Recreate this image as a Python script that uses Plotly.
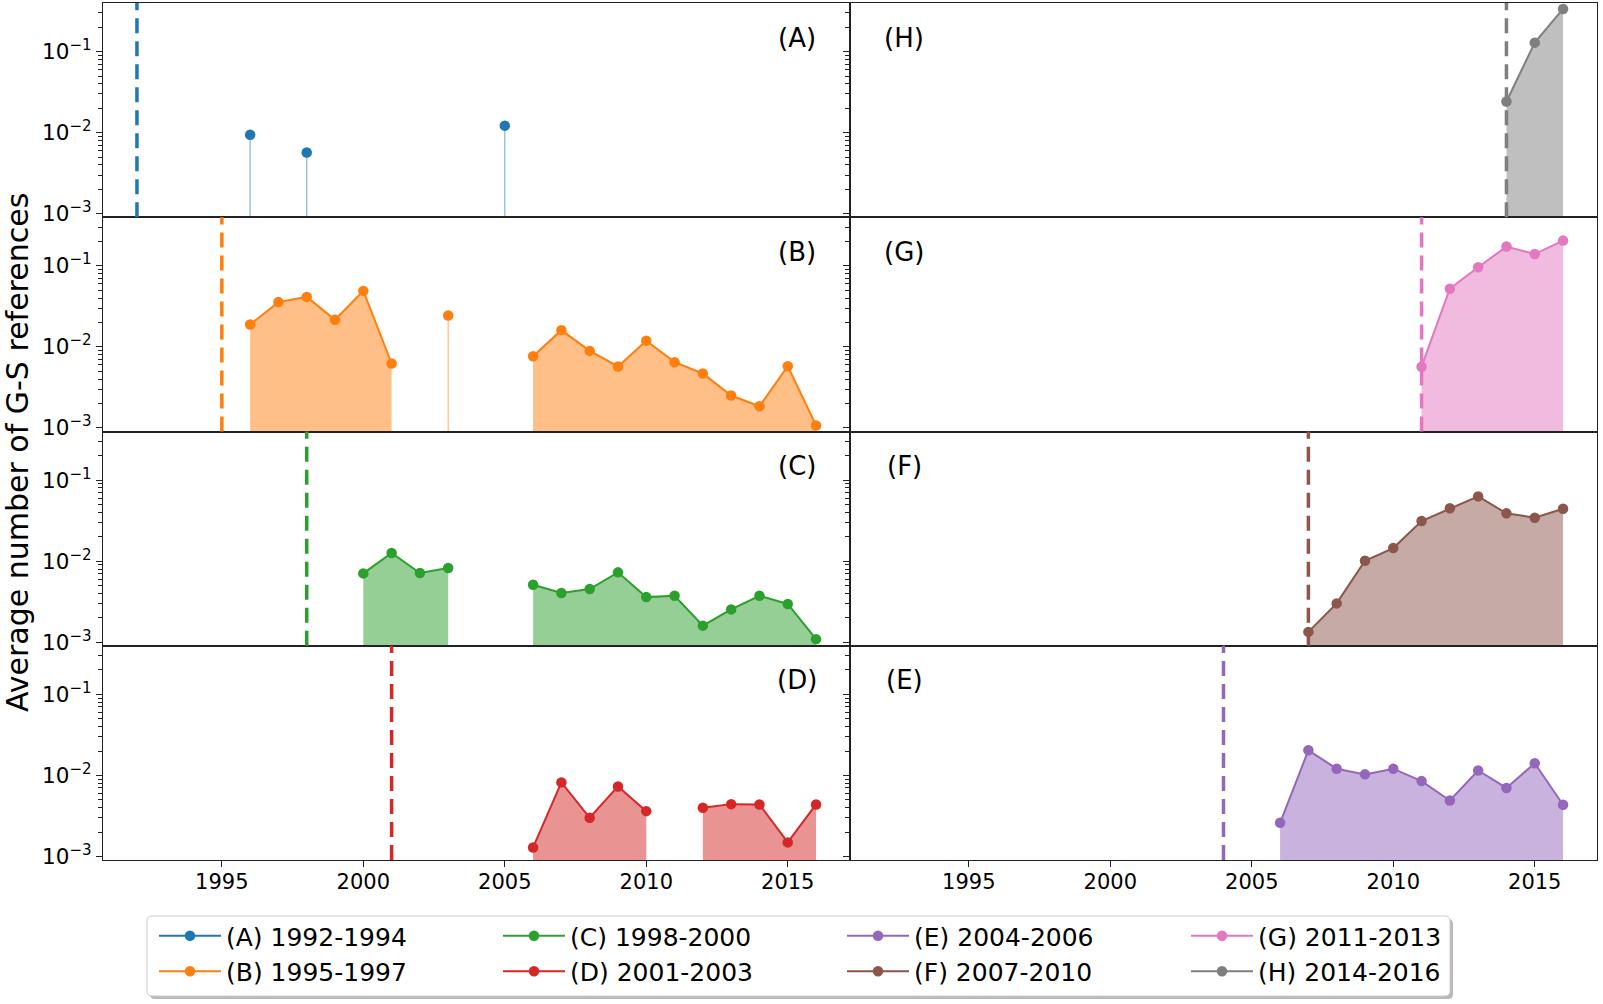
import plotly.graph_objects as go
from plotly.subplots import make_subplots

YEARS = list(range(1996, 2017))
N = None
A = [0.0094, N, 0.0057, N, N, N, N, N, N, 0.0122, N, N, N, N, N, N, N, N, N, N, N]
B = [0.0189, 0.0357, 0.0414, 0.0216, 0.0491, 0.00624, N, 0.0244, N, N,
     0.00767, 0.0161, 0.00893, 0.00573, 0.0119, 0.00648, 0.0047, 0.00251, 0.00185, 0.00578, 0.00107]
C = [N, N, N, N, 0.00706, 0.0126, 0.00713, 0.00822, N, N,
     0.00512, 0.00404, 0.00453, 0.00727, 0.0036, 0.00374, 0.0016, 0.00254, 0.00374, 0.00296, 0.00109]
D = [N] * 10 + [0.00129, 0.0082, 0.0030, 0.00731, 0.00362, N, 0.00398, 0.00442, 0.00438, 0.00149, 0.00438]
E = [N] * 10 + [0.0026, 0.0204, 0.0121, 0.0103, 0.0121, 0.0085, 0.0049, 0.0115, 0.0070, 0.0141, 0.00434]
F = [N] * 11 + [0.00134, 0.00301, 0.0101, 0.0145, 0.0313, 0.0449, 0.063, 0.0389, 0.0344, 0.0444]
G = [N] * 15 + [0.0057, 0.0523, 0.096, 0.173, 0.140, 0.205]
H = [N] * 18 + [0.0242, 0.129, 0.336]

SERIES = {"A": A, "B": B, "C": C, "D": D, "E": E, "F": F, "G": G, "H": H}
START_YEARS = {"A": 1992, "B": 1995, "C": 1998, "D": 2001, "E": 2004, "F": 2007, "G": 2011, "H": 2014}
LABELS = {"A": "(A) 1992-1994", "B": "(B) 1995-1997", "C": "(C) 1998-2000", "D": "(D) 2001-2003",
          "E": "(E) 2004-2006", "F": "(F) 2007-2010", "G": "(G) 2011-2013", "H": "(H) 2014-2016"}
COLORS = {"A": (31, 119, 180), "B": (255, 127, 14), "C": (44, 160, 44), "D": (214, 39, 40),
          "E": (148, 103, 189), "F": (140, 86, 75), "G": (227, 119, 194), "H": (127, 127, 127)}
POS = {"A": (1, 1), "B": (2, 1), "C": (3, 1), "D": (4, 1),
       "H": (1, 2), "G": (2, 2), "F": (3, 2), "E": (4, 2)}
LEGEND_RANK = {"A": 1, "C": 2, "E": 3, "G": 4, "B": 5, "D": 6, "F": 7, "H": 8}

X_TICKS = [1995, 2000, 2005, 2010, 2015]
Y_TICKS = [1e-3, 1e-2, 1e-1]
Y_TICKTEXT = ["10<sup>\u22123</sup>", "10<sup>\u22122</sup>", "10<sup>\u22121</sup>"]
X_RANGE = [1990.8, 2017.2]
Y_RANGE_LOG = [-3.044, -0.40]
BASE = 1e-5  # below the visible range: fill baseline

W, HGT = 1603, 1004
ML, MR, MT, MB = 103, 6, 3, 144
PW = W - ML - MR
PH = HGT - MT - MB

def px_x(p):
    return (p - ML) / PW

def px_y(p):
    return (HGT - MB - p) / PH

fig = make_subplots(rows=4, cols=2, horizontal_spacing=0, vertical_spacing=0)

def rgb(c, a=None):
    if a is None:
        return "rgb(%d,%d,%d)" % c
    return "rgba(%d,%d,%d,%s)" % (c + (a,))

for key, vals in SERIES.items():
    r, c = POS[key]
    col = COLORS[key]
    segs, cur = [], []
    for yr, v in zip(YEARS, vals):
        if v is None:
            if cur:
                segs.append(cur)
            cur = []
        else:
            cur.append((yr, v))
    if cur:
        segs.append(cur)
    for seg in segs:
        xs = [p[0] for p in seg]
        ys = [p[1] for p in seg]
        if len(seg) == 1:
            fig.add_trace(go.Scatter(x=[xs[0], xs[0]], y=[BASE, ys[0]], mode="lines",
                                     line=dict(color=rgb(col, 0.5), width=1.3),
                                     showlegend=False, hoverinfo="skip"), row=r, col=c)
        else:
            fig.add_trace(go.Scatter(x=xs + [xs[-1], xs[0]], y=ys + [BASE, BASE], mode="lines",
                                     fill="toself", fillcolor=rgb(col, 0.5),
                                     line=dict(width=0, color=rgb(col, 0.5)),
                                     showlegend=False, hoverinfo="skip"), row=r, col=c)
    fig.add_trace(go.Scatter(x=YEARS, y=vals, mode="lines+markers", name=LABELS[key],
                             line=dict(color=rgb(col), width=2),
                             marker=dict(color=rgb(col), size=10.5), cliponaxis=False,
                             connectgaps=False, legendrank=LEGEND_RANK[key]), row=r, col=c)
    idx = (r - 1) * 2 + c
    xr = "x" if idx == 1 else "x%d" % idx
    yr_ = "y" if idx == 1 else "y%d" % idx
    fig.add_shape(type="line", xref=xr, yref=yr_ + " domain", x0=START_YEARS[key], x1=START_YEARS[key],
                  y0=0, y1=1, line=dict(color=rgb(col), width=3.5, dash="15px,8px"), layer="above")
    fig.add_annotation(xref=xr + " domain", yref=yr_ + " domain",
                       x=0.929 if c == 1 else 0.0723, y=0.838, xanchor="center", yanchor="middle",
                       text="(%s)" % key, showarrow=False,
                       font=dict(family="DejaVu Sans", size=26, color="black"))

minor_vals = [k * 10 ** e for e in range(-4, 1) for k in range(2, 10)]

for r in range(1, 5):
    for c in range(1, 3):
        fig.update_xaxes(range=X_RANGE, showline=True, mirror=True, linecolor="#222", linewidth=1.2,
                         showgrid=False, zeroline=False, tickmode="array", tickvals=X_TICKS,
                         ticks="outside" if r == 4 else "", ticklen=6, tickcolor="#222",
                         showticklabels=(r == 4), ticklabelstandoff=-3,
                         tickfont=dict(family="DejaVu Sans", size=21, color="black"), row=r, col=c)
        fig.update_yaxes(type="log", range=Y_RANGE_LOG, showline=True, mirror=True, linecolor="#222",
                         linewidth=1.2, showgrid=False, zeroline=False, tickmode="array",
                         tickvals=Y_TICKS, ticktext=Y_TICKTEXT, ticks="outside", ticklen=6,
                         tickcolor="#222", showticklabels=(c == 1),
                         minor=dict(tickmode="array", tickvals=minor_vals, ticks="outside",
                                    ticklen=3.5, tickcolor="#222", showgrid=False),
                         tickfont=dict(family="DejaVu Sans", size=21.5, color="black"), row=r, col=c)

fig.add_annotation(xref="paper", yref="paper", x=px_x(17), y=px_y(453),
                   text="Average number of G-S references", textangle=-90, showarrow=False,
                   xanchor="center", yanchor="middle",
                   font=dict(family="DejaVu Sans", size=30, color="black"))

def rounded(x0, y0, x1, y1, rad):
    X0, X1 = px_x(x0), px_x(x1)
    Y0, Y1 = px_y(y0), px_y(y1)
    rx, ry = rad / PW, rad / PH
    return ("M %f,%f L %f,%f Q %f,%f %f,%f L %f,%f Q %f,%f %f,%f L %f,%f Q %f,%f %f,%f "
            "L %f,%f Q %f,%f %f,%f Z") % (
        X0 + rx, Y0, X1 - rx, Y0, X1, Y0, X1, Y0 - ry, X1, Y1 + ry, X1, Y1, X1 - rx, Y1,
        X0 + rx, Y1, X0, Y1, X0, Y1 + ry, X0, Y0 - ry, X0, Y0, X0 + rx, Y0)

fig.add_shape(type="path", xref="paper", yref="paper", path=rounded(150, 919, 1453, 999, 5),
              fillcolor="rgba(128,128,128,0.55)", line=dict(width=0), layer="below")
fig.add_shape(type="path", xref="paper", yref="paper", path=rounded(147, 916, 1450, 996, 5),
              fillcolor="white", line=dict(width=1, color="#cccccc"), layer="below")

fig.update_layout(
    width=W, height=HGT,
    margin=dict(l=ML, r=MR, t=MT, b=MB),
    paper_bgcolor="white", plot_bgcolor="white",
    showlegend=True,
    legend=dict(orientation="h", x=px_x(154), y=px_y(913),
                xanchor="left", yanchor="top", bgcolor="rgba(0,0,0,0)",
                borderwidth=0, itemwidth=62, entrywidth=267, entrywidthmode="pixels",
                font=dict(family="DejaVu Sans", size=25, color="black"), traceorder="normal"),
    font=dict(family="DejaVu Sans"),
)

fig.write_html("out.html", config={"displayModeBar": False},
               post_script="document.body.style.margin='0px';document.body.style.padding='0px';")
